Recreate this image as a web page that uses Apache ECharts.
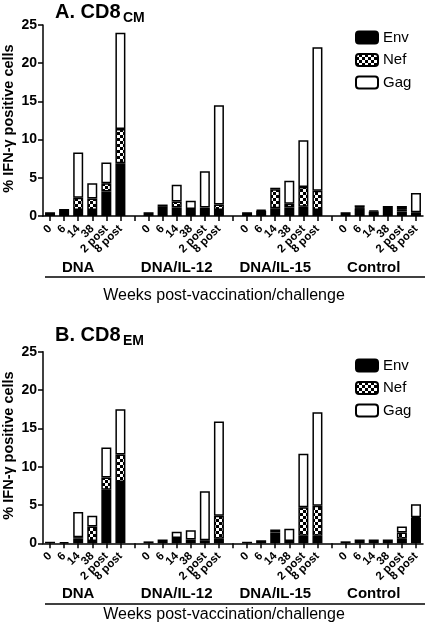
<!DOCTYPE html>
<html><head><meta charset="utf-8">
<script src="https://cdn.jsdelivr.net/npm/echarts@6/dist/echarts.min.js"></script>
<style>html,body{margin:0;padding:0;background:#fff}#c{width:428px;height:626px}</style>
</head><body><div id="c"></div><script>
const groups = ['DNA', 'DNA/IL-12', 'DNA/IL-15', 'Control'];
const weeks = ['0', '6', '14', '38', '2 post', '8 post'];
const yTicks = [0, 5, 10, 15, 20, 25];
const seriesNames = ['Env', 'Nef', 'Gag'];
// A. CD8 CM (per group: 0, 6, 14, 38, 2 post, 8 post)
const cmEnv = [0.5, 0.9, 0.8, 0.8, 3.2, 6.9,  0.5, 1.2, 1.1, 0.9, 0.9, 0.8,  0.5, 0.7, 1.0, 1.1, 1.2, 0.8,  0.5, 1.0, 0.6, 0.9, 0.6, 0.5];
const cmNef = [0,   0,   1.6, 1.5, 1.1, 4.5,  0,   0.3, 0.8, 0,   0.2, 0.7,  0,   0.1, 2.5, 0.5, 2.6, 2.5,  0,   0.1, 0,   0,   0.3, 0];
const cmGag = [0,   0,   5.9, 2.0, 2.7, 12.6, 0,   0,   2.2, 1.1, 4.75,13.0, 0,   0,   0.2, 3.0, 6.1, 18.8, 0,   0.3, 0.1, 0.4, 0.4, 2.5];
// B. CD8 EM
const emEnv = [0.2, 0.15,0.6, 0.3, 7.0, 8.0,  0.25,0.5, 0.7, 0.5, 0.4, 0.6,  0.2, 0.4, 1.2, 0.3, 1.0, 1.0,  0.26,0.48,0.48,0.48,0.6, 3.3];
const emNef = [0,   0,   0.2, 1.9, 1.6, 3.6,  0,   0,   0,   0,   0,   3.0,  0,   0,   0.2, 0,   3.7, 3.9,  0,   0,   0,   0,   0.8, 0.1];
const emGag = [0,   0,   3.3, 1.4, 3.9, 5.9,  0,   0,   0.8, 1.2, 6.4, 12.3, 0,   0,   0.4, 1.6, 7.0, 12.2, 0,   0,   0,   0,   0.8, 1.7];

// build category slots with a gap slot between groups
const slots = [];
groups.forEach((g, gi) => {
  weeks.forEach(w => slots.push(g + '|' + w));
  if (gi < groups.length - 1) slots.push('gap' + gi);
});
function toSlots(arr) {
  const out = [];
  groups.forEach((g, gi) => {
    for (let k = 0; k < weeks.length; k++) {
      const v = arr[gi * weeks.length + k];
      out.push(v > 0 ? v : null);
    }
    if (gi < groups.length - 1) out.push(null);
  });
  return out;
}

// checkered pattern for Nef
const pc = document.createElement('canvas');
pc.width = 6; pc.height = 6;
const g2 = pc.getContext('2d');
g2.fillStyle = '#000'; g2.fillRect(0, 0, 6, 6);
g2.fillStyle = '#fff'; g2.fillRect(0, 0, 3, 3); g2.fillRect(3, 3, 3, 3);
const fills = ['#000', { image: pc, repeat: 'repeat' }, '#fff'];

const FONT = 'Liberation Sans, Arial, sans-serif';
const panels = [
  { top: 25, height: 191, data: [cmEnv, cmNef, cmGag] },
  { top: 351.7, height: 191.6, data: [emEnv, emNef, emGag] }
];
const LEFT = 43, WIDTH = 380;

const grid = [], xAxis = [], yAxis = [], series = [], legend = [];
panels.forEach((p, pi) => {
  grid.push({ left: LEFT, width: WIDTH, top: p.top, height: p.height, containLabel: false, outerBoundsMode: 'none' });
  xAxis.push({
    type: 'category', gridIndex: pi, data: slots,
    axisLine: { lineStyle: { color: '#000', width: 1.5 } },
    axisTick: { show: true, interval: 0, alignWithLabel: true, length: 5, lineStyle: { color: '#000', width: 1.5 } },
    axisLabel: {
      interval: 0, rotate: 45, margin: 11, color: '#000', fontSize: 11.5, fontWeight: 'bold', fontFamily: FONT,
      formatter: v => v.indexOf('|') >= 0 ? v.split('|')[1] : ''
    }
  });
  yAxis.push({
    type: 'value', gridIndex: pi, min: yTicks[0], max: yTicks[yTicks.length - 1], interval: 5,
    axisLine: { show: true, lineStyle: { color: '#000', width: 1.5 } },
    axisTick: { show: true, length: 5, lineStyle: { color: '#000', width: 1.5 } },
    axisLabel: { color: '#000', fontSize: 14, fontWeight: 'bold', fontFamily: FONT, margin: 6 },
    splitLine: { show: false }
  });
  seriesNames.forEach((n, si) => {
    series.push({
      type: 'bar', name: n, stack: 'p' + pi, xAxisIndex: pi, yAxisIndex: pi,
      barWidth: 10, data: toSlots(p.data[si]),
      itemStyle: { color: fills[si], borderColor: '#000', borderWidth: 1.5 },
      emphasis: { disabled: true }
    });
  });
  legend.push({
    data: seriesNames, orient: 'vertical', left: 350, top: pi === 0 ? 25 : 353,
    itemWidth: 22, itemHeight: 12, itemGap: 7.5,
    textStyle: { color: '#000', fontSize: 15, fontFamily: FONT, lineHeight: 15 },
    selectedMode: false
  });
});

const chart = echarts.init(document.getElementById('c'), null, { renderer: 'canvas' });
chart.setOption({ animation: false, backgroundColor: '#fff', grid, xAxis, yAxis, series, legend });

// group labels, underline, axis titles and panel titles
const graphic = [];
const titles = [['A. CD8', 'CM'], ['B. CD8', 'EM']];
const layout = [
  { title: 12, group: 267.5, line: 277, weeks: 296 },
  { title: 335, group: 594, line: 604, weeks: 615 }
];
panels.forEach((p, pi) => {
  const L = layout[pi];
  groups.forEach((gname, gi) => {
    const cx = chart.convertToPixel({ xAxisIndex: pi }, gname + '|' + weeks[2]);
    graphic.push({ type: 'text', x: cx, y: L.group, style: { text: gname, fill: '#000', font: 'bold 15px ' + FONT, textAlign: 'center', textVerticalAlign: 'middle' } });
  });
  graphic.push({ type: 'line', shape: { x1: 45, y1: L.line, x2: 425, y2: L.line }, style: { stroke: '#000', lineWidth: 1.5 } });
  graphic.push({ type: 'text', x: 224, y: L.weeks, style: { text: 'Weeks post-vaccination/challenge', fill: '#000', font: '16px ' + FONT, textAlign: 'center', textVerticalAlign: 'middle' } });
  graphic.push({ type: 'text', x: 55, y: L.title, style: { text: titles[pi][0], fill: '#000', font: 'bold 20px ' + FONT, textAlign: 'left', textVerticalAlign: 'middle' } });
  graphic.push({ type: 'text', x: 123, y: L.title + 6, style: { text: titles[pi][1], fill: '#000', font: 'bold 14px ' + FONT, textAlign: 'left', textVerticalAlign: 'middle' } });
  graphic.push({ type: 'text', x: 9, y: p.top + p.height / 2 - 2, rotation: Math.PI / 2, style: { text: '% IFN-\u03b3 positive cells', fill: '#000', font: 'bold 14.5px ' + FONT, textAlign: 'center', textVerticalAlign: 'middle' } });
});
chart.setOption({ graphic });
</script></body></html>
